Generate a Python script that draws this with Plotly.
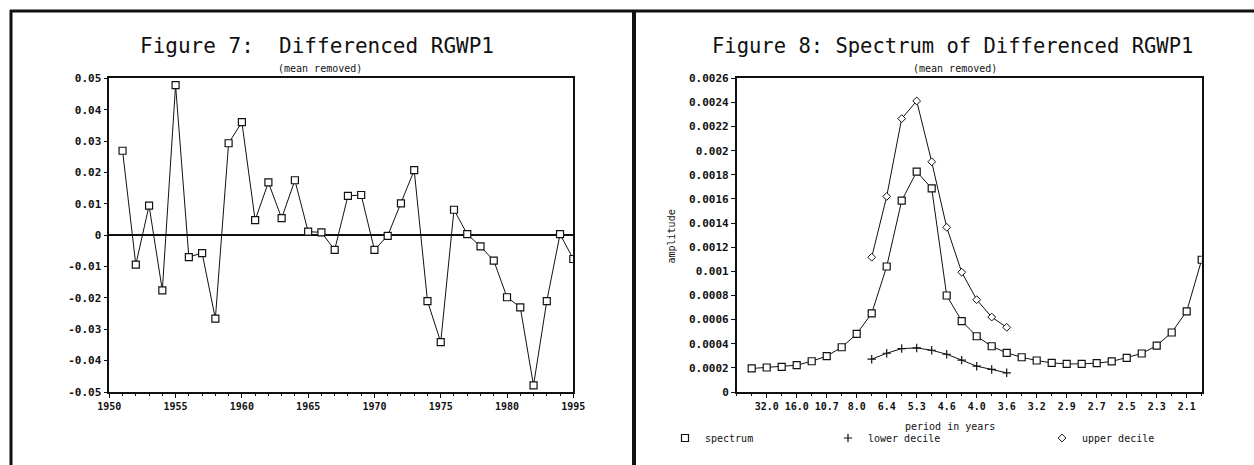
import plotly.graph_objects as go

# ---------------- data ----------------
years = list(range(1951, 1986))
diff_rgwp1 = [0.0269, -0.0094, 0.0094, -0.0176, 0.0478, -0.0070, -0.0057, -0.0266,
              0.0293, 0.0360, 0.0048, 0.0168, 0.0054, 0.0175, 0.0011, 0.0009,
              -0.0047, 0.0125, 0.0128, -0.0047, -0.0002, 0.0101, 0.0207, -0.0210,
              -0.0341, 0.0081, 0.0003, -0.0036, -0.0081, -0.0198, -0.0230, -0.0479,
              -0.0210, 0.0003, -0.0076]
year_tick_vals = [1950, 1955, 1960, 1965, 1970, 1975, 1980, 1985]
year_tick_text = ["1950", "1955", "1960", "1965", "1970", "1975", "1980", "1995"]
diff_tick_vals = [-0.05, -0.04, -0.03, -0.02, -0.01, 0, 0.01, 0.02, 0.03, 0.04, 0.05]
diff_tick_text = ["-0.05", "-0.04", "-0.03", "-0.02", "-0.01", "0",
                  "0.01", "0.02", "0.03", "0.04", "0.05"]

harmonic = list(range(1, 32))
spectrum = [0.000195, 0.000203, 0.000208, 0.000222, 0.000255, 0.000297, 0.000371,
            0.000481, 0.000652, 0.00104, 0.001586, 0.001826, 0.001688, 0.0008,
            0.000588, 0.000462, 0.000379, 0.000324, 0.000288, 0.000261, 0.000241,
            0.000233, 0.000233, 0.000239, 0.000253, 0.000283, 0.000319, 0.000385,
            0.000493, 0.000669, 0.001096]
decile_harmonic = list(range(9, 19))
lower_decile = [0.000272, 0.000321, 0.00036, 0.000365, 0.000346, 0.000313,
                0.000264, 0.000214, 0.000187, 0.000159]
upper_decile = [0.001117, 0.001621, 0.002266, 0.002412, 0.001908, 0.001365,
                0.000993, 0.000765, 0.000621, 0.000536]
period_tick_vals = [2, 4, 6, 8, 10, 12, 14, 16, 18, 20, 22, 24, 26, 28, 30]
period_tick_text = ["32.0", "16.0", "10.7", "8.0", "6.4", "5.3", "4.6", "4.0",
                    "3.6", "3.2", "2.9", "2.7", "2.5", "2.3", "2.1"]
amp_tick_vals = [0, 0.0002, 0.0004, 0.0006, 0.0008, 0.001, 0.0012, 0.0014,
                 0.0016, 0.0018, 0.002, 0.0022, 0.0024, 0.0026]
amp_tick_text = ["0", "0.0002", "0.0004", "0.0006", "0.0008", "0.001", "0.0012",
                 "0.0014", "0.0016", "0.0018", "0.002", "0.0022", "0.0024", "0.0026"]

# ---------------- styling ----------------
W, H = 1254, 465
MONO = "DejaVu Sans Mono"
INK = "#111111"

def px_x(v):
    return v / W

def px_y(v):
    return 1 - v / H

sq_marker = dict(symbol="square", size=7, color="white", line=dict(color=INK, width=1.2))
plus_marker = dict(symbol="cross-thin", size=6, color=INK, line=dict(color=INK, width=1.2))
dia_marker = dict(symbol="diamond", size=6, color="white", line=dict(color=INK, width=1))

fig = go.Figure()

fig.add_trace(go.Scatter(
    x=years, y=diff_rgwp1, mode="lines+markers", xaxis="x", yaxis="y",
    line=dict(color=INK, width=1), marker=sq_marker, showlegend=False))

fig.add_trace(go.Scatter(
    x=harmonic, y=spectrum, mode="lines+markers", xaxis="x2", yaxis="y2",
    line=dict(color=INK, width=1), marker=sq_marker, showlegend=False))
fig.add_trace(go.Scatter(
    x=decile_harmonic, y=lower_decile, mode="lines+markers", xaxis="x2", yaxis="y2",
    line=dict(color=INK, width=1), marker=plus_marker, showlegend=False))
fig.add_trace(go.Scatter(
    x=decile_harmonic, y=upper_decile, mode="lines+markers", xaxis="x2", yaxis="y2",
    line=dict(color=INK, width=1), marker=dia_marker, showlegend=False))

# legend-only entries (symbols without lines, as in the reference), each in its own legend
for name, mk, lg in [("spectrum", sq_marker, "legend"),
                     ("lower decile", plus_marker, "legend2"),
                     ("upper decile", dia_marker, "legend3")]:
    fig.add_trace(go.Scatter(
        x=[None], y=[None], mode="markers", name=name, xaxis="x2", yaxis="y2",
        marker=mk, legend=lg))

tickfont = dict(family=MONO, size=10, color=INK, weight="bold")
ytickfont = dict(family=MONO, size=11, color=INK, weight="bold")
axis_common = dict(showline=True, linecolor=INK, linewidth=1.5, mirror=True,
                   showgrid=False, ticks="outside", tickcolor=INK, ticklen=4,
                   automargin=False)

def legend_at(xpx):
    return dict(orientation="h", x=px_x(xpx), y=px_y(438), xanchor="left", yanchor="middle",
                font=dict(family=MONO, size=10, color=INK), bgcolor="rgba(0,0,0,0)",
                itemwidth=30)

fig.update_layout(
    width=W, height=H, autosize=False,
    margin=dict(l=0, r=0, t=0, b=0, autoexpand=False),
    paper_bgcolor="white", plot_bgcolor="white",
    xaxis=dict(domain=[px_x(109.3), px_x(573.3)], range=[1950, 1985],
               tickvals=year_tick_vals, ticktext=year_tick_text, tickfont=tickfont,
               tickangle=0, zeroline=False,
               minor=dict(dtick=1, ticks="outside", ticklen=2, tickcolor=INK),
               anchor="y", **axis_common),
    yaxis=dict(domain=[px_y(392), px_y(78.3)], range=[-0.05, 0.05],
               tickvals=diff_tick_vals, ticktext=diff_tick_text, tickfont=ytickfont,
               zeroline=True, zerolinecolor=INK, zerolinewidth=1.5,
               anchor="x", **axis_common),
    xaxis2=dict(domain=[px_x(736.7), px_x(1201.7)], range=[0, 31],
                tickvals=period_tick_vals, ticktext=period_tick_text, tickfont=tickfont,
                tickangle=0, zeroline=False,
                minor=dict(dtick=1, ticks="outside", ticklen=2, tickcolor=INK),
                anchor="y2", **axis_common),
    yaxis2=dict(domain=[px_y(392), px_y(78.3)], range=[0, 0.0026],
                tickvals=amp_tick_vals, ticktext=amp_tick_text, tickfont=ytickfont,
                zeroline=False, anchor="x2", **axis_common),
    legend=legend_at(665),
    legend2=legend_at(828),
    legend3=legend_at(1042),
    font=dict(family=MONO, color=INK),
)

annots = [
    dict(text="Figure 7:  Differenced RGWP1", x=px_x(317), y=px_y(46), size=21),
    dict(text="(mean removed)", x=px_x(320), y=px_y(68), size=10),
    dict(text="Figure 8: Spectrum of Differenced RGWP1", x=px_x(952), y=px_y(46), size=20.5),
    dict(text="(mean removed)", x=px_x(955), y=px_y(68), size=10),
    dict(text="period in years", x=px_x(950), y=px_y(426), size=10),
]
for a in annots:
    fig.add_annotation(text=a["text"], x=a["x"], y=a["y"], xref="paper", yref="paper",
                       xanchor="center", yanchor="middle", showarrow=False,
                       font=dict(family=MONO, size=a["size"], color=INK))
fig.add_annotation(text="amplitude", x=px_x(671.5), y=px_y(237), xref="paper", yref="paper",
                   xanchor="center", yanchor="middle", showarrow=False, textangle=-90,
                   font=dict(family=MONO, size=10, color=INK))

# page frame lines
frame = [
    dict(x0=10, y0=11, x1=W, y1=11, w=3),
    dict(x0=11, y0=10, x1=11, y1=H, w=3),
    dict(x0=634, y0=10, x1=634, y1=H, w=4),
]
for f in frame:
    fig.add_shape(type="line", xref="paper", yref="paper",
                  x0=px_x(f["x0"]), x1=px_x(f["x1"]), y0=px_y(f["y0"]), y1=px_y(f["y1"]),
                  line=dict(color=INK, width=f["w"]))

fig.write_html("out.html")
